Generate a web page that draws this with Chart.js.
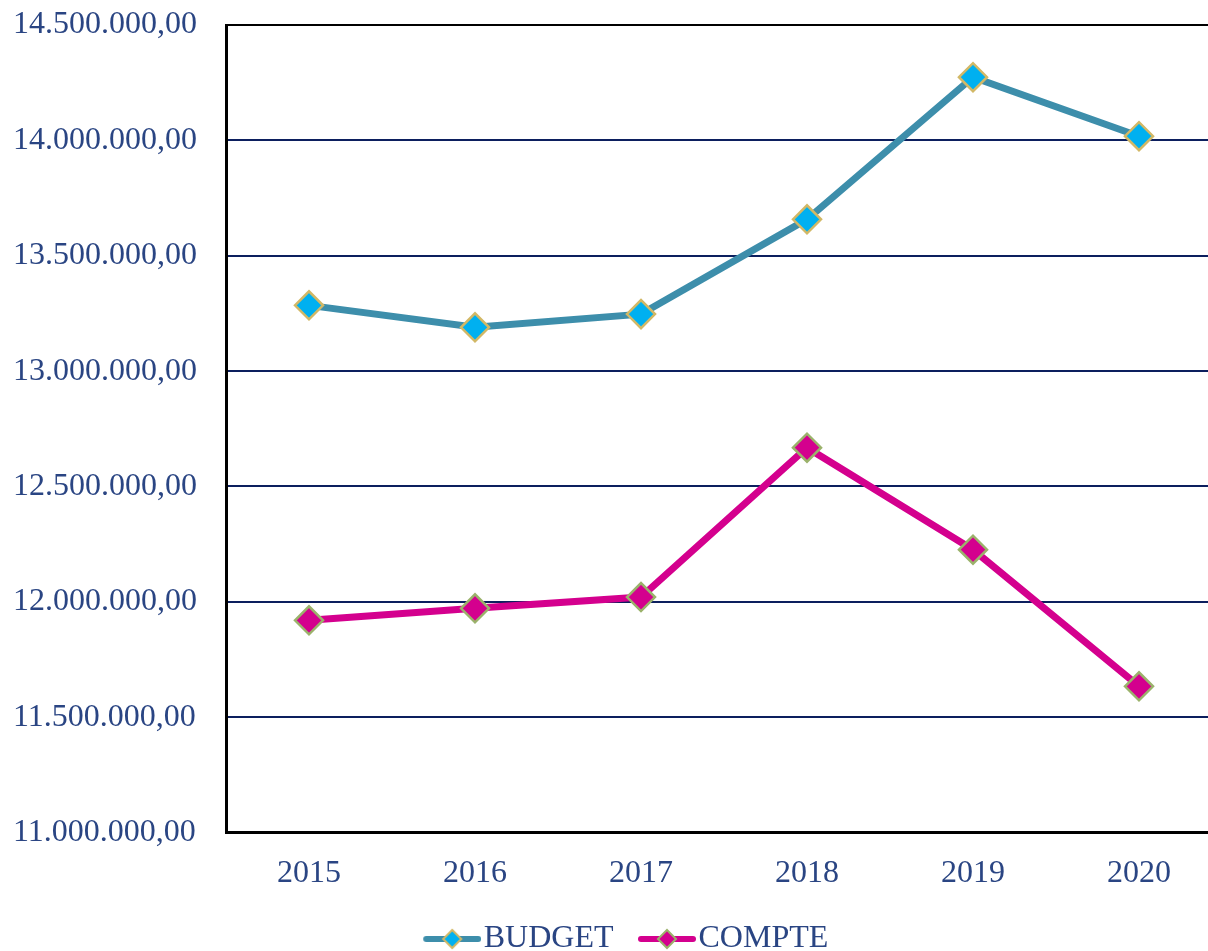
<!DOCTYPE html>
<html lang="fr">
<head>
  <meta charset="UTF-8">
  <title>Budget / Compte</title>
  <script src="https://cdn.jsdelivr.net/npm/chart.js"></script>
  <style>
    html, body {
      margin: 0;
      padding: 0;
      overflow: hidden;
      background: #fff;
    }
    canvas { display: block; }
  </style>
</head>
<body>
  <canvas id="chart" width="1226" height="965"></canvas>

  <script>
    // data
    const years = ['2015', '2016', '2017', '2018', '2019', '2020'];
    const budget = [13285000, 13190000, 13247000, 13658000, 14274000, 14018000];
    const compte = [11920000, 11972000, 12021000, 12668000, 12226000, 11634000];

    const textColor = '#2a4583';
    const fontFamily = '"Liberation Serif", "Times New Roman", serif';

    function formatNum(v) {
      const parts = Math.round(v).toString().replace(/\B(?=(\d{3})+(?!\d))/g, '.');
      return parts + ',00';
    }

    // legend icon: blank on the left, then a line with a diamond in the middle
    function legendIcon(lineColor, fill, border) {
      const c = document.createElement('canvas');
      c.width = 88;
      c.height = 26;
      const g = c.getContext('2d');
      g.strokeStyle = lineColor;
      g.lineWidth = 6;
      g.lineCap = 'round';
      g.beginPath();
      g.moveTo(33, 13);
      g.lineTo(85, 13);
      g.stroke();
      g.beginPath();
      g.moveTo(59, 4);
      g.lineTo(68, 13);
      g.lineTo(59, 22);
      g.lineTo(50, 13);
      g.closePath();
      g.fillStyle = fill;
      g.fill();
      g.lineWidth = 2;
      g.strokeStyle = border;
      g.stroke();
      return c;
    }

    const series = [
      { label: 'BUDGET', data: budget, line: '#3d8eab', fill: '#00b0f0', border: '#d2b866' },
      { label: 'COMPTE', data: compte, line: '#d4008e', fill: '#d4008e', border: '#9bb26b' }
    ];

    const ctx = document.getElementById('chart').getContext('2d');
    new Chart(ctx, {
      type: 'line',
      data: {
        labels: years,
        datasets: series.map(s => ({
          label: s.label,
          data: s.data,
          borderColor: s.line,
          borderWidth: 7,
          tension: 0,
          pointStyle: 'rectRot',
          pointRadius: 14,
          pointHoverRadius: 14,
          pointBackgroundColor: s.fill,
          pointBorderColor: s.border,
          pointBorderWidth: 2.5,
          icon: legendIcon(s.line, s.fill, s.border)
        }))
      },
      options: {
        responsive: false,
        animation: false,
        layout: {
          autoPadding: false,
          padding: { top: 25, left: 13, right: 4, bottom: 0 }
        },
        plugins: {
          tooltip: { enabled: false },
          legend: {
            position: 'bottom',
            labels: {
              usePointStyle: true,
              pointStyleWidth: 61,
              padding: 8,
              color: textColor,
              font: { family: fontFamily, size: 32 },
              generateLabels: chart => chart.data.datasets.map((ds, i) => ({
                text: ds.label,
                pointStyle: ds.icon,
                fontColor: textColor,
                hidden: false,
                lineWidth: 0,
                strokeStyle: 'transparent',
                fillStyle: 'transparent',
                datasetIndex: i
              }))
            }
          }
        },
        scales: {
          x: {
            offset: true,
            grid: { display: false, drawTicks: false },
            border: { display: true, color: '#000', width: 3 },
            ticks: {
              color: textColor,
              padding: 22,
              font: { family: fontFamily, size: 32 }
            }
          },
          y: {
            min: 11000000,
            max: 14500000,
            afterFit: scale => { scale.width = 213; },
            grid: {
              drawTicks: false,
              lineWidth: 2,
              color: c => (c.tick && c.tick.value === 14500000) ? '#000' : '#0c1f5e'
            },
            border: { display: true, color: '#000', width: 3 },
            ticks: {
              stepSize: 500000,
              color: textColor,
              padding: 0,
              crossAlign: 'far',
              font: { family: fontFamily, size: 32 },
              callback: v => formatNum(v)
            }
          }
        }
      }
    });
  </script>
</body>
</html>
